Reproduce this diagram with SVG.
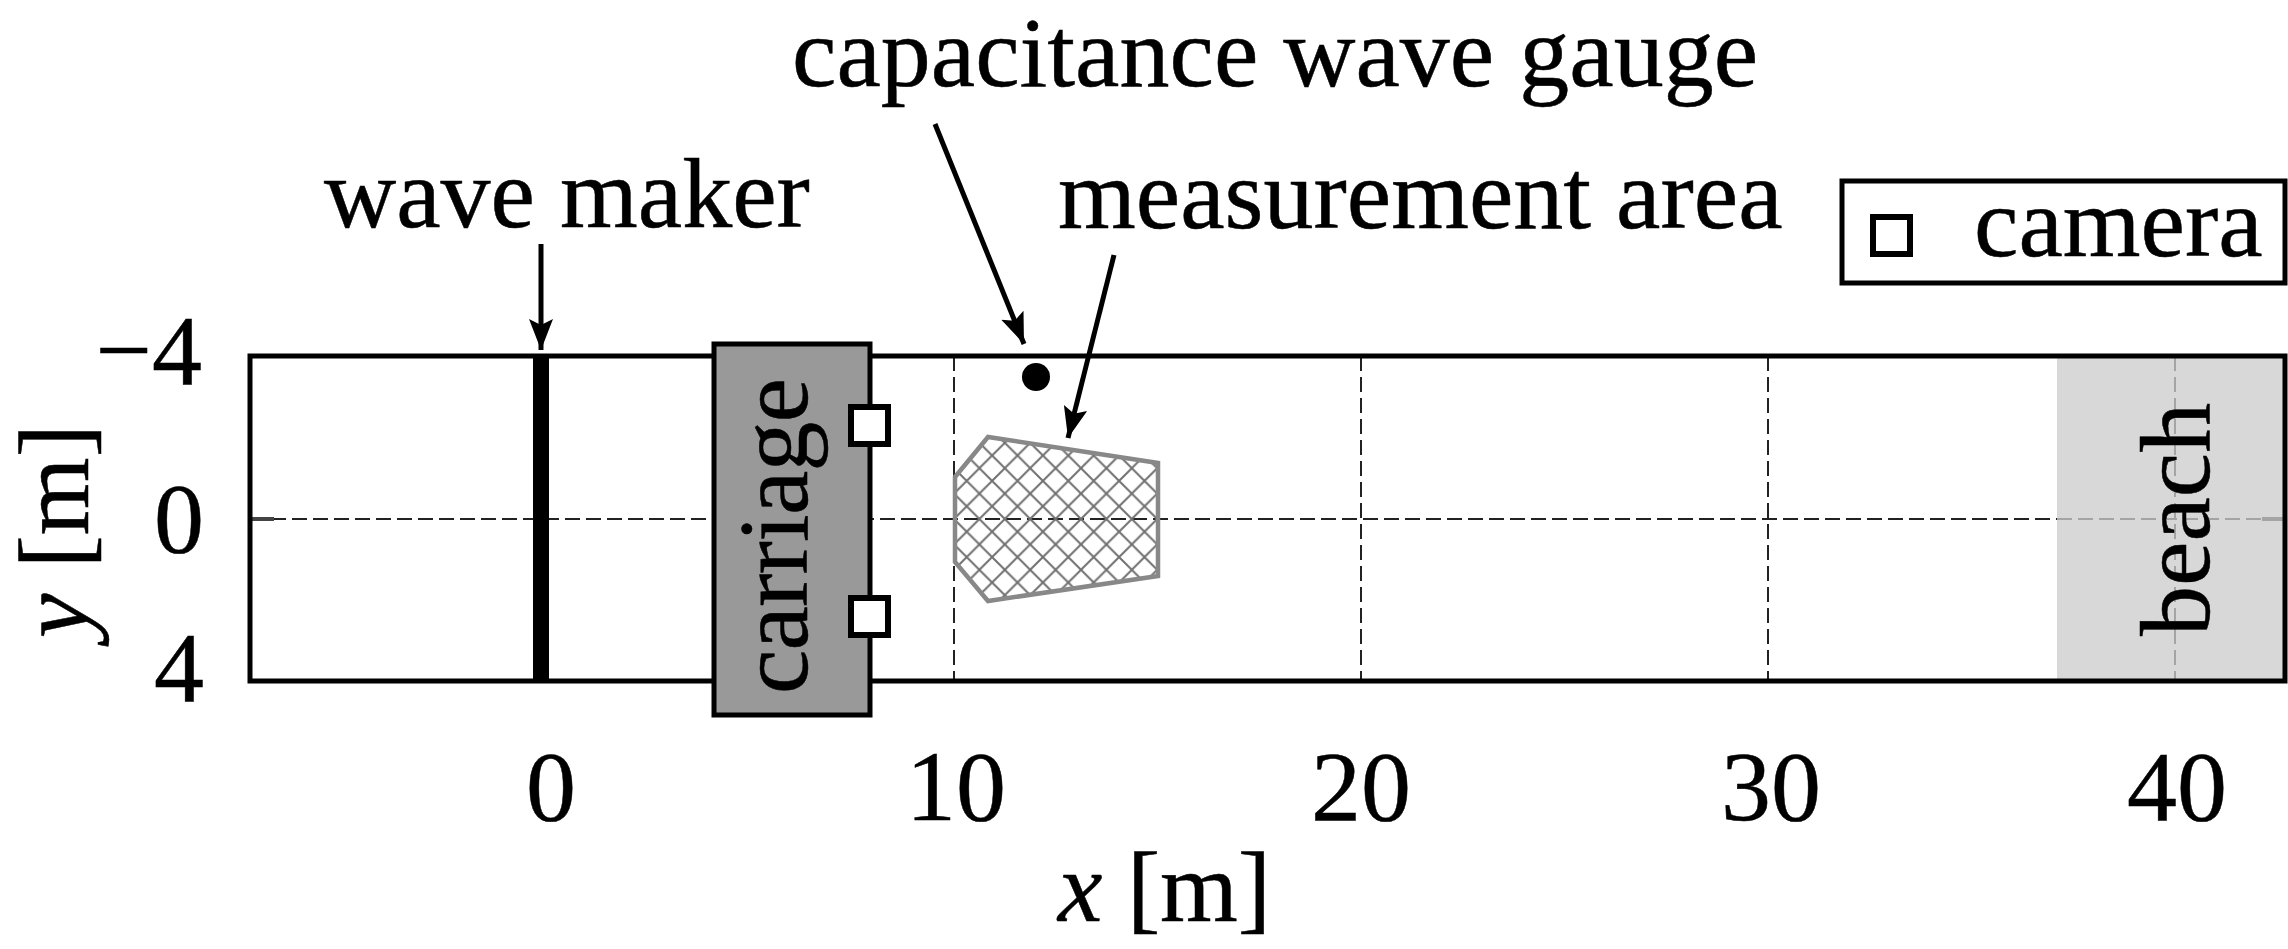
<svg xmlns="http://www.w3.org/2000/svg" width="2288" height="949" viewBox="0 0 2288 949">
<style>
text{font-family:"Liberation Serif","Times New Roman",serif;font-size:100px;fill:#000;stroke:#000;stroke-width:.5}
.grid{stroke:#222;stroke-width:2;stroke-dasharray:15 6;fill:none}
.grid2{stroke:#a4a4a4;stroke-width:2;stroke-dasharray:15 6;fill:none}
.arrow{stroke:#000;stroke-width:5;fill:none;marker-end:url(#ah)}
.cam{fill:#fff;stroke:#000;stroke-width:6}
</style>
<defs>
<marker id="ah" markerUnits="userSpaceOnUse" markerWidth="34" markerHeight="26" refX="31" refY="12" orient="auto"><path d="M0 0L31 12L0 24L6 12Z" fill="#000"/></marker>
<pattern id="hatch" patternUnits="userSpaceOnUse" width="25.4" height="25.4" x="954" y="519"><path d="M-3 3L3 -3M-3 28.4L28.4 -3M22.4 28.4L28.4 22.4M-3 -3L28.4 28.4M-3 22.4L3 28.4M22.4 -3L28.4 3" stroke="#707070" stroke-width="2" fill="none"/></pattern>
</defs>
<rect width="2288" height="949" fill="#fff"/>
<g id="tank">
<rect x="250" y="356" width="2035" height="325" fill="#fff"/>
<path class="grid" d="M250 519H2057M954 356V681M1361 356V681M1768 356V681"/>
<path d="M252 519H274" stroke="#444" stroke-width="4"/>
</g>
<g id="beach">
<rect x="2057" y="356" width="228" height="325" fill="#d8d8d8"/>
<path class="grid2" d="M2057 519H2285M2175 356V681"/>
<path d="M2262 519H2283" stroke="#a4a4a4" stroke-width="4"/>
<text transform="translate(2209 636) rotate(-90)">beach</text>
</g>
<g id="frame"><rect x="250" y="356" width="2035" height="325" fill="none" stroke="#000" stroke-width="5"/></g>
<g id="wave-maker"><rect x="533" y="356" width="16" height="325" fill="#000"/></g>
<g id="measurement-area"><path d="M955 477L988 437L1158 463V576L988 601L955 562Z" fill="url(#hatch)" stroke="#888" stroke-width="4.5"/></g>
<g id="carriage">
<rect x="714" y="344" width="156" height="371" fill="#999" stroke="#000" stroke-width="5"/>
<text transform="translate(807 694) rotate(-90)" textLength="316">carriage</text>
</g>
<g id="camera-1"><rect class="cam" x="851" y="407" width="37" height="37"/></g>
<g id="camera-2"><rect class="cam" x="851" y="598" width="37" height="37"/></g>
<g id="gauge"><circle cx="1036" cy="377" r="14" fill="#000"/></g>
<g id="legend">
<rect x="1842" y="181" width="443" height="102" fill="#fff" stroke="#000" stroke-width="5"/>
<rect class="cam" x="1873" y="217" width="37" height="37"/>
<text x="1974" y="256">camera</text>
</g>
<g id="connectors">
<path class="arrow" d="M541 244V350"/>
<path class="arrow" d="M935 124L1024 344"/>
<path class="arrow" d="M1114 255L1068 438"/>
</g>
<g id="labels">
<text x="792" y="86">capacitance wave gauge</text>
<text x="324" y="227">wave maker</text>
<text x="1058" y="228">measurement area</text>
<text x="202" y="384" text-anchor="end">−4</text>
<text x="204" y="552" text-anchor="end">0</text>
<text x="204" y="701" text-anchor="end">4</text>
<text x="551" y="820" text-anchor="middle">0</text>
<text x="956" y="820" text-anchor="middle">10</text>
<text x="1361" y="820" text-anchor="middle">20</text>
<text x="1771" y="820" text-anchor="middle">30</text>
<text x="2177" y="820" text-anchor="middle">40</text>
<text x="1058" y="921" textLength="213"><tspan font-style="italic">x</tspan> [m]</text>
<text transform="translate(88 638) rotate(-90)" textLength="214"><tspan font-style="italic">y</tspan> [m]</text>
</g>
</svg>
